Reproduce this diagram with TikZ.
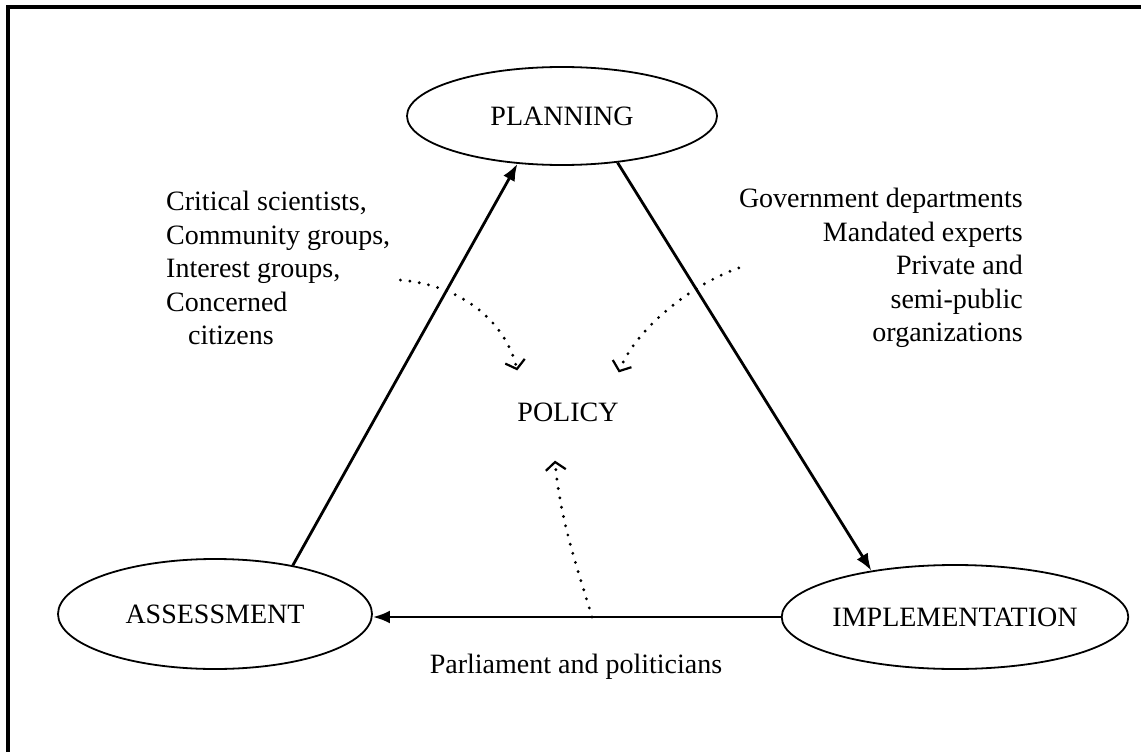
\documentclass[tikz,border=0pt]{standalone}
\usepackage{fontspec}
\setmainfont{Liberation Serif}
\usetikzlibrary{shapes.geometric,arrows.meta}

\begin{document}
\begin{tikzpicture}[x=1pt,y=-1pt,
		font={\fontsize{28}{33.5}\selectfont},
		stage/.style={ellipse,draw,line width=1.8pt,inner sep=0pt},
		flow/.style={line width=2.8pt,-{Latex[length=17pt,width=13pt]}},
		influence/.style={line width=3.2pt,line cap=round,dash pattern=on 0pt off 9.5pt,
			-{Straight Barb[length=8pt,width=20pt,line width=2.2pt]}},
		]
		\useasboundingbox (0,0) rectangle (1141,752);
		\draw[line width=4pt] (8,752) -- (8,7) -- (1141,7);
		\node[stage,minimum width=310pt,minimum height=98pt] (planning) at (562,116) {PLANNING};
		\node[stage,minimum width=314pt,minimum height=110pt] (assessment) at (215,614) {ASSESSMENT};
		\node[stage,minimum width=330pt,minimum height=104pt] (implementation) at (955,617) {IMPLEMENTATION};
		\node[inner sep=0pt] (policy) at (568,412) {POLICY};
		\node[inner sep=0pt,align=left,anchor=north west] (critical) at (166,191)
			{Critical scientists,\\Community groups,\\Interest groups,\\Concerned\\\hspace*{22pt}citizens};
		\node[inner sep=0pt,align=right,anchor=north east] (gov) at (1023,188)
			{Government departments\\Mandated experts\\Private and\\semi-public\\organizations};
		\node[inner sep=0pt] (parl) at (576,667) {Parliament and politicians};
		\coordinate (parlbase) at (592,617);
		\draw[flow] (assessment.32) -- (planning.227);
		\draw[flow] (planning.320) -- (implementation.151);
		\draw[flow] (implementation.west) -- (implementation.west -| assessment.east);
		\draw[influence] ([xshift=10pt,yshift=-12pt]critical.east) .. controls (460,285) and (505,320) .. ([yshift=32pt]policy.north west);
		\draw[influence] (gov.west) .. controls (690,285) and (635,330) .. ([yshift=30pt]policy.north east);
		\draw[influence] (parlbase) .. controls (578,570) and (560,520) .. ([xshift=-13pt,yshift=-39pt]policy.south);
	\end{tikzpicture}
\end{document}
